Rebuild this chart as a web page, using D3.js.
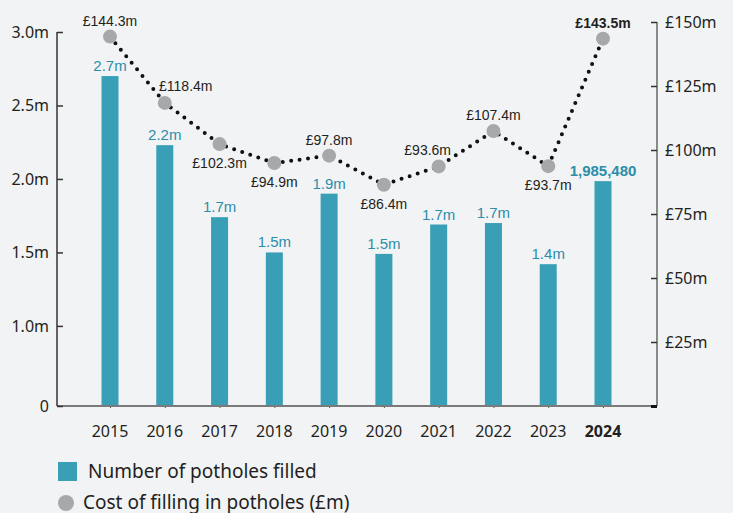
<!DOCTYPE html>
<html lang="en">
    <head>
        <meta charset="utf-8">
        <title>Potholes filled</title>
        <script type="text/javascript" src="https://cdnjs.cloudflare.com/ajax/libs/d3/7.8.5/d3.min.js"></script>
        <style>
            body { margin: 0; background: #f2f3f5; }
            svg { display: block; }
            .cond { font-family: "Liberation Sans Narrow", "Liberation Sans", sans-serif; font-stretch: condensed; }
            .reg { font-family: "Noto Sans", "Open Sans", sans-serif; }
        </style>
    </head>
    <body>
        <div id="chart"></div>
        <script type="text/javascript">
            // data
            var years = ["2015", "2016", "2017", "2018", "2019", "2020", "2021", "2022", "2023", "2024"];
            var potholes = [2.70, 2.23, 1.74, 1.50, 1.90, 1.49, 1.69, 1.70, 1.42, 1.985];
            var potholeLabels = ["2.7m", "2.2m", "1.7m", "1.5m", "1.9m", "1.5m", "1.7m", "1.7m", "1.4m", "1,985,480"];
            var cost = [144.3, 118.4, 102.3, 94.9, 97.8, 86.4, 93.6, 107.4, 93.7, 143.5];
            var costLabels = ["£144.3m", "£118.4m", "£102.3m", "£94.9m", "£97.8m", "£86.4m", "£93.6m", "£107.4m", "£93.7m", "£143.5m"];
            // label placement: above or below the dot
            var costPos = ["up", "upright", "down", "down", "up", "down", "upleft", "up", "down", "up"];
            var leftTicks = [1.0, 1.5, 2.0, 2.5, 3.0];
            var rightTicks = [25, 50, 75, 100, 125, 150];

            var width = 733, height = 513;
            var bottom = 406;
            var axisMin = 0.455; // left axis is cut, bottom labelled "0"

            var svg = d3.select("#chart").append("svg")
                .attr("width", width).attr("height", height);

            var x = d3.scalePoint().domain(years).range([110, 603]);
            var yL = d3.scaleLinear().domain([axisMin, 3.0]).range([bottom, 32]);
            var yR = d3.scaleLinear().domain([0, 150]).range([bottom, 22]);
            var barW = 17;
            var teal = "#389fb6";

            // bars
            svg.selectAll("rect.bar")
                .data(potholes)
                .enter().append("rect")
                .attr("class", "bar")
                .attr("x", function(d, i){ return x(years[i]) - barW / 2; })
                .attr("y", function(d){ return yL(d); })
                .attr("width", barW)
                .attr("height", function(d){ return bottom - yL(d); })
                .attr("fill", teal);

            svg.selectAll("text.barlab")
                .data(potholes)
                .enter().append("text")
                .attr("class", "cond")
                .attr("x", function(d, i){ return x(years[i]); })
                .attr("y", function(d){ return yL(d) - 5; })
                .attr("text-anchor", "middle")
                .attr("fill", "#2b8ea9")
                .style("font-size", "15px")
                .style("font-weight", function(d, i){ return i == 9 ? "bold" : "normal"; })
                .text(function(d, i){ return potholeLabels[i]; });

            // x axis
            var xAxis = d3.axisBottom(x).tickSize(2).tickFormat("");
            var gx = svg.append("g")
                .attr("transform", "translate(0," + bottom + ")")
                .call(xAxis);
            gx.select(".domain").remove();
            gx.selectAll(".tick line").attr("stroke", "#555");
            svg.append("line")
                .attr("x1", 57).attr("x2", 657)
                .attr("y1", bottom).attr("y2", bottom)
                .attr("stroke", "#7a7a7a").attr("stroke-width", 2);

            svg.selectAll("text.year")
                .data(years)
                .enter().append("text")
                .attr("class", "reg")
                .attr("x", function(d){ return x(d); })
                .attr("y", 437)
                .attr("text-anchor", "middle")
                .attr("fill", "#231f20")
                .style("font-size", "16px")
                .style("font-weight", function(d, i){ return i == 9 ? "bold" : "normal"; })
                .text(function(d){ return d; });

            // left axis
            var leftAxis = d3.axisRight(yL)
                .tickValues([axisMin].concat(leftTicks))
                .tickSize(6)
                .tickFormat(function(d){ return d == axisMin ? "0" : d.toFixed(1) + "m"; });
            var gl = svg.append("g")
                .attr("transform", "translate(57,0)")
                .call(leftAxis);
            gl.select(".domain").attr("stroke", "#333").attr("stroke-width", 1.5).attr("d", "M0," + yL(3.0) + "V" + bottom);
            gl.selectAll(".tick line").attr("stroke", "#333").attr("stroke-width", 1.5);
            gl.selectAll(".tick text")
                .attr("class", "reg")
                .attr("x", -8)
                .attr("text-anchor", "end")
                .attr("fill", "#231f20")
                .style("font-size", "16px");

            // right axis
            var rightAxis = d3.axisLeft(yR)
                .tickValues([0].concat(rightTicks))
                .tickSize(6)
                .tickFormat(function(d){ return d == 0 ? "" : "£" + d + "m"; });
            var gr = svg.append("g")
                .attr("transform", "translate(657,0)")
                .call(rightAxis);
            gr.select(".domain").attr("stroke", "#666").attr("stroke-width", 1.5).attr("d", "M0," + yR(150) + "V" + bottom);
            gr.selectAll(".tick line").attr("stroke", "#333").attr("stroke-width", 1.5);
            gr.selectAll(".tick").filter(function(d){ return d == 0; }).select("line").attr("stroke-width", 3).attr("stroke", "#111");
            gr.selectAll(".tick text")
                .attr("class", "reg")
                .attr("x", 8)
                .attr("text-anchor", "start")
                .attr("fill", "#231f20")
                .style("font-size", "16px");

            // cost dotted line
            var line = d3.line()
                .x(function(d, i){ return x(years[i]); })
                .y(function(d){ return yR(d); });
            svg.append("path")
                .datum(cost)
                .attr("d", line)
                .attr("fill", "none")
                .attr("stroke", "#111")
                .attr("stroke-width", 4)
                .attr("stroke-linecap", "round")
                .attr("stroke-dasharray", "0 8.5");

            svg.selectAll("circle.cost")
                .data(cost)
                .enter().append("circle")
                .attr("cx", function(d, i){ return x(years[i]); })
                .attr("cy", function(d){ return yR(d); })
                .attr("r", 7)
                .attr("fill", "#a7a8ab");

            svg.selectAll("text.costlab")
                .data(cost)
                .enter().append("text")
                .attr("class", "cond")
                .attr("x", function(d, i){
                    var p = costPos[i];
                    var dx = p == "upright" ? 21 : (p == "upleft" ? -11 : 0);
                    return x(years[i]) + dx;
                })
                .attr("y", function(d, i){
                    var p = costPos[i];
                    if (p == "down") return yR(d) + 24;
                    if (p == "upright") return yR(d) - 12;
                    return yR(d) - 11;
                })
                .attr("text-anchor", "middle")
                .attr("fill", "#231f20")
                .style("font-size", "14px")
                .style("font-weight", function(d, i){ return i == 9 ? "bold" : "normal"; })
                .text(function(d, i){ return costLabels[i]; });

            // legend
            svg.append("rect")
                .attr("x", 58).attr("y", 462).attr("width", 19).attr("height", 19)
                .attr("fill", teal);
            svg.append("text")
                .attr("class", "reg")
                .attr("x", 88).attr("y", 478)
                .attr("fill", "#231f20")
                .style("font-size", "19px")
                .text("Number of potholes filled");
            svg.append("circle")
                .attr("cx", 66).attr("cy", 503).attr("r", 8)
                .attr("fill", "#a7a8ab");
            svg.append("text")
                .attr("class", "reg")
                .attr("x", 83).attr("y", 509)
                .attr("fill", "#231f20")
                .style("font-size", "19px")
                .text("Cost of filling in potholes (£m)");
        </script>
    </body>
</html>
